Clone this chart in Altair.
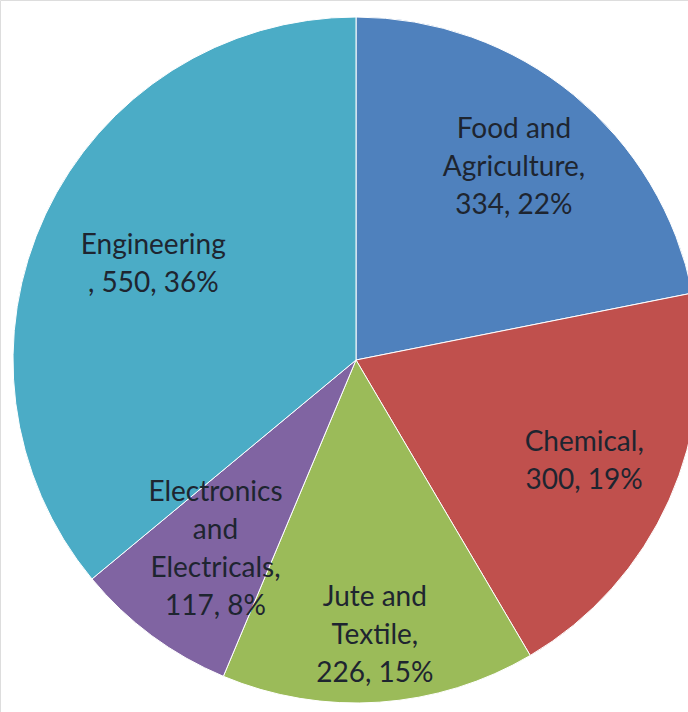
import altair as alt
import pandas as pd

# ---- data ----
categories = ["Food and Agriculture", "Chemical", "Jute and Textile",
              "Electronics and Electricals", "Engineering"]
values = [334, 300, 226, 117, 550]
percents = [22, 19, 15, 8, 36]
# label text as wrapped in the reference
label_text = [
    "Food and\nAgriculture,\n334, 22%",
    "Chemical,\n300, 19%",
    "Jute and\nTextile,\n226, 15%",
    "Electronics\nand\nElectricals,\n117, 8%",
    "Engineering\n, 550, 36%",
]

# ---- styling / layout (not data) ----
colors = ["#4F81BD", "#C0504D", "#9BBB59", "#8064A2", "#4BACC6"]
label_radius = [249, 250, 277, 236, 224]
CX, CY, R = 356, 360, 343
LH = 38

df = pd.DataFrame({
    "category": categories,
    "value": values,
    "percent": percents,
    "label": label_text,
    "order": list(range(len(categories))),
    "lr": label_radius,
})

pie = alt.Chart(df).mark_arc(outerRadius=R, stroke="#ffffff", strokeWidth=1).encode(
    theta=alt.Theta("value:Q", stack=True),
    order=alt.Order("order:Q"),
    color=alt.Color("category:N",
                    scale=alt.Scale(domain=categories, range=colors),
                    legend=None),
    x=alt.value(CX),
    y=alt.value(CY),
)

labels = alt.Chart(df).transform_joinaggregate(
    total="sum(value)"
).transform_window(
    cum="sum(value)", sort=[alt.SortField("order")], frame=[None, 0]
).transform_calculate(
    ang="2 * PI * (datum.cum - datum.value / 2) / datum.total",
    nl="length(split(datum.label, '\\n'))",
).transform_calculate(
    px=f"{CX} + datum.lr * sin(datum.ang)",
    py=f"{CY} - datum.lr * cos(datum.ang) - (datum.nl - 1) * {LH} / 2",
).mark_text(
    font="Lato", fontSize=28, lineHeight=LH, lineBreak="\n",
    align="center", baseline="middle",
).encode(
    x=alt.X("px:Q", scale=None, axis=None),
    y=alt.Y("py:Q", scale=None, axis=None),
    text="label:N",
    color=alt.value("#1e2530"),
)

chart = (pie + labels).properties(
    width=688, height=712, padding=0,
    autosize=alt.AutoSizeParams(type="none"),
).configure_view(stroke=None).configure(background="#ffffff")

chart.save("out.html", embed_options={"renderer": "svg", "actions": False})
